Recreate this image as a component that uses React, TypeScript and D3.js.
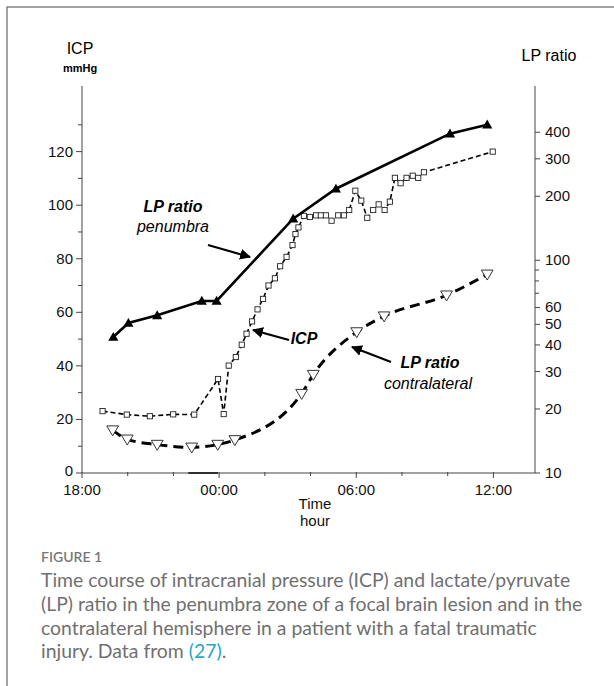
import React from "react";
import * as d3 from "d3";

// ---------- data (hours after 18:00) ----------
const icpTime = [0.90, 1.96, 2.97, 3.99, 4.91, 5.95, 6.20, 6.42, 6.73, 6.99, 7.20, 7.44, 7.68, 7.92, 8.16, 8.44, 8.67, 8.95, 9.21, 9.34, 9.47, 9.71, 9.97, 10.24, 10.45, 10.67, 10.92, 11.21, 11.46, 11.69, 11.96, 12.22, 12.48, 12.74, 12.98, 13.24, 13.47, 13.69, 13.94, 14.20, 14.47, 14.71, 14.96, 17.97];
const icpValue = [23.1, 21.8, 21.2, 21.9, 21.8, 35.1, 22.0, 40.1, 43.3, 47.9, 52.0, 56.6, 61.1, 65.0, 70.0, 72.7, 77.2, 80.7, 85.1, 89.2, 91.7, 96.0, 95.6, 96.2, 96.2, 96.2, 94.2, 96.2, 96.2, 98.2, 105.4, 101.7, 95.3, 98.2, 100.3, 98.2, 101.3, 110.2, 108.2, 110.2, 111.0, 110.2, 112.3, 120.0];

const penTime = [1.37, 2.03, 3.29, 5.24, 5.89, 9.24, 11.11, 16.10, 17.73];
const penValue = [43.6, 50.7, 55.1, 64.4, 64.4, 157, 217, 394, 434];

const conTime = [1.34, 1.98, 3.29, 4.80, 5.94, 6.69, 9.61, 10.12, 12.02, 13.22, 15.95, 17.73];
const conValue = [15.9, 14.4, 13.6, 13.2, 13.6, 14.3, 23.6, 29.0, 46.0, 54.6, 68.5, 85.9];

const xMajor = [0, 6, 12, 18];
const xMajorLabels = ["18:00", "00:00", "06:00", "12:00"];
const xMinor = [2, 4, 8, 10, 14, 16];
const eventBar = [4.65, 5.95];

const leftLabeled = [0, 20, 40, 60, 80, 100, 120];
const leftMinor = [10, 30, 50, 70, 90, 110, 130];
const rightLabeled = [10, 20, 30, 40, 50, 60, 100, 200, 300, 400];
const rightMinor = [70, 80, 90];

const captionLines = [
  "Time course of intracranial pressure (ICP) and lactate/pyruvate",
  "(LP) ratio in the penumbra zone of a focal brain lesion and in the",
  "contralateral hemisphere in a patient with a fatal traumatic",
];

export default function App() {
  const W = 614, H = 686;
  const x = d3.scaleLinear().domain([0, 19.82]).range([82, 535]);
  const yL = d3.scaleLinear().domain([0, 144.5]).range([473, 86]);
  const yR = d3.scaleLog().domain([10, Math.pow(10, 1 + 387 / 212.7)]).range([473, 86]);

  const icp = icpTime.map((t, i) => [x(t), yL(icpValue[i])] as [number, number]);
  const pen = penTime.map((t, i) => [x(t), yR(penValue[i])] as [number, number]);
  const con = conTime.map((t, i) => [x(t), yR(conValue[i])] as [number, number]);

  const lin = d3.line();
  const smooth = d3.line().curve(d3.curveMonotoneX);

  const axisFont = "'Liberation Sans', Arial, sans-serif";
  const x0 = 82, x1 = 535, yb = 473, yt = 86;

  const tri = (cx: number, cy: number, s: number) =>
    `M${cx},${cy - s * 0.6}L${cx + s * 0.6},${cy + s * 0.45}L${cx - s * 0.6},${cy + s * 0.45}Z`;
  const itri = (cx: number, cy: number, s: number) =>
    `M${cx - s * 0.62},${cy - s * 0.45}L${cx + s * 0.62},${cy - s * 0.45}L${cx},${cy + s * 0.6}Z`;

  return (
    <svg width={W} height={H} style={{ position: "absolute", left: 0, top: 0, background: "#fff" }}>
      <defs>
        <marker id="ah" viewBox="0 0 10 10" refX="9" refY="5" markerWidth="5" markerHeight="5" orient="auto" markerUnits="strokeWidth">
          <path d="M0,0L10,5L0,10Z" fill="#000" />
        </marker>
      </defs>
      <rect x={7} y={7} width={W} height={H} fill="none" stroke="#666" strokeWidth={1.2} />

      {/* axis titles */}
      <text x={80} y={54} textAnchor="middle" fontFamily={axisFont} fontSize={16}>ICP</text>
      <text x={80} y={72} textAnchor="middle" fontFamily={axisFont} fontSize={11} fontWeight="bold">mmHg</text>
      <text x={549} y={61} textAnchor="middle" fontFamily={axisFont} fontSize={16}>LP ratio</text>

      {/* axes */}
      <g stroke="#444" strokeWidth={1} fill="none">
        <line x1={x0} y1={yt} x2={x0} y2={yb} />
        <line x1={x1} y1={yt} x2={x1} y2={yb} />
        <line x1={x0} y1={yb} x2={x1} y2={yb} />
        {leftLabeled.map(v => <line key={"ll" + v} x1={x0 - 6} x2={x0} y1={yL(v)} y2={yL(v)} />)}
        {leftMinor.map(v => <line key={"lm" + v} x1={x0 - 4} x2={x0} y1={yL(v)} y2={yL(v)} />)}
        {rightLabeled.map(v => <line key={"rl" + v} x1={x1} x2={x1 + 5} y1={yR(v)} y2={yR(v)} />)}
        {rightMinor.map(v => <line key={"rm" + v} x1={x1} x2={x1 + 4} y1={yR(v)} y2={yR(v)} />)}
        {xMajor.map(v => <line key={"xm" + v} x1={x(v)} x2={x(v)} y1={yb - 1} y2={yb + 5} />)}
        {xMinor.map(v => <line key={"xn" + v} x1={x(v)} x2={x(v)} y1={yb - 1} y2={yb + 3} />)}
      </g>
      <line x1={x(eventBar[0])} x2={x(eventBar[1])} y1={yb} y2={yb} stroke="#222" strokeWidth={1.8} />

      <g fontFamily={axisFont} fontSize={15} fill="#111">
        {leftLabeled.map(v => <text key={"tl" + v} x={x0 - 9} y={yL(v) + (v === 0 ? 3 : 5)} textAnchor="end">{v}</text>)}
        {rightLabeled.map(v => <text key={"tr" + v} x={x1 + 10} y={yR(v) + 5} textAnchor="start">{v}</text>)}
        {xMajor.map((v, i) => <text key={"tx" + v} x={x(v)} y={yb + 22} textAnchor="middle">{xMajorLabels[i]}</text>)}
        <text x={315} y={509} textAnchor="middle">Time</text>
        <text x={315} y={526} textAnchor="middle">hour</text>
      </g>

      {/* contralateral */}
      <path d={smooth(con) || ""} fill="none" stroke="#000" strokeWidth={3} strokeDasharray="10,6" />
      {con.map((p, i) => <path key={"c" + i} d={itri(p[0], p[1], 9.5)} fill="#fff" stroke="#333" strokeWidth={1} />)}

      {/* ICP */}
      <path d={lin(icp) || ""} fill="none" stroke="#000" strokeWidth={1.6} strokeDasharray="5,3" />
      {icp.map((p, i) => <rect key={"i" + i} x={p[0] - 2.6} y={p[1] - 2.6} width={5.2} height={5.2} fill="#fff" stroke="#222" strokeWidth={0.9} />)}

      {/* penumbra */}
      <path d={lin(pen) || ""} fill="none" stroke="#000" strokeWidth={2.6} />
      {pen.map((p, i) => <path key={"p" + i} d={tri(p[0], p[1], 8.5)} fill="#000" />)}

      {/* annotations */}
      <g fontFamily={axisFont} fontSize={16} fontStyle="italic" textAnchor="middle">
        <text x={173} y={212} fontWeight="bold">LP ratio</text>
        <text x={173} y={232}>penumbra</text>
        <text x={304} y={344} fontWeight="bold">ICP</text>
        <text x={430} y={368} fontWeight="bold">LP ratio</text>
        <text x={428} y={389}>contralateral</text>
      </g>
      <g stroke="#000" strokeWidth={2.2} markerEnd="url(#ah)">
        <line x1={208} y1={245} x2={250} y2={257} />
        <line x1={289} y1={340} x2={253} y2={330} />
        <line x1={391} y1={362} x2={352} y2={347} />
      </g>

      {/* caption */}
      <text x={41} y={562} fontFamily="Lato, 'Open Sans', sans-serif" fontSize={14} fontWeight={600} fill="#777">FIGURE 1</text>
      <g fontFamily="Lato, 'Open Sans', sans-serif" fontSize={19.4} fill="#707070">
        {captionLines.map((s, i) => <text key={"cap" + i} x={41} y={587 + i * 23.8}>{s}</text>)}
        <text x={41} y={587 + 3 * 23.8}>injury. Data from <tspan fill="#27a6c4">(27)</tspan>.</text>
      </g>
    </svg>
  );
}
